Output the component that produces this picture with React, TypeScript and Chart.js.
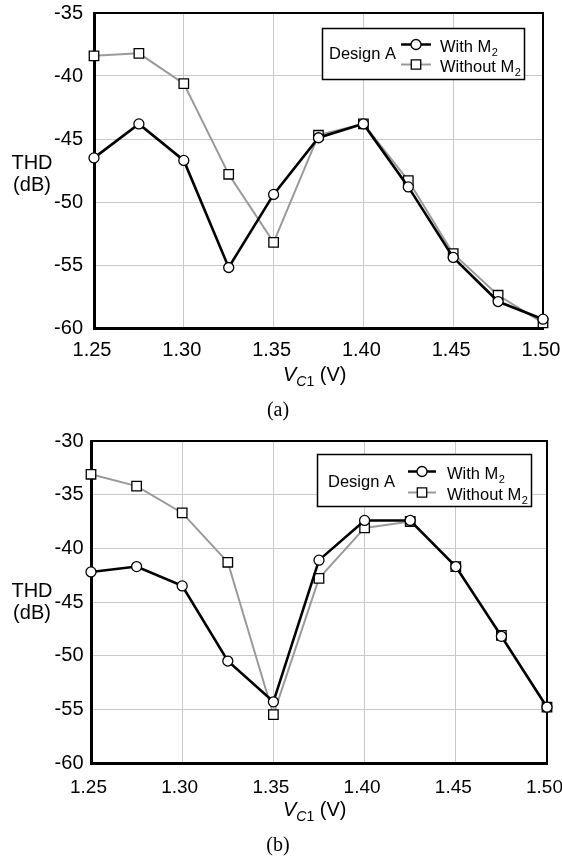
import React, { useEffect, useRef } from 'react';
import { Chart, registerables } from 'chart.js';

Chart.register(...registerables);

// ---- data ----
const vc1 = [1.25, 1.275, 1.3, 1.325, 1.35, 1.375, 1.4, 1.425, 1.45, 1.475, 1.5];
const withM2A = [-46.5, -43.8, -46.7, -55.2, -49.4, -44.9, -43.8, -48.8, -54.4, -57.9, -59.3];
const withoutM2A = [-38.4, -38.2, -40.6, -47.8, -53.2, -44.7, -43.8, -48.3, -54.1, -57.4, -59.6];
const withM2B = [-42.2, -41.7, -43.5, -50.5, -54.3, -41.1, -37.4, -37.4, -41.7, -48.2, -54.8];
const withoutM2B = [-33.1, -34.2, -36.7, -41.3, -55.5, -42.8, -38.1, -37.5, -41.7, -48.1, -54.8];
const xTicks = [1.25, 1.3, 1.35, 1.4, 1.45, 1.5];
const yTicksA = [-60, -55, -50, -45, -40, -35];
const yTicksB = [-60, -55, -50, -45, -40, -35, -30];
const legendTitle = 'Design A';
const seriesLabels = ['With M', 'Without M'];
const seriesSub = '2';

const SANS = '"Liberation Sans", Arial, Helvetica, sans-serif';
const SERIF = '"Liberation Serif", "Times New Roman", serif';
const LEGEND_FONT = 16.5;

type Geo = {
  height: number;
  padTop: number;
  padRight: number;
  yWidth: number;
  xHeight: number;
  yPad: number;
  xPad: number;
  xFont: number;
  xShift: number;
  box: { x: number; y: number; w: number; h: number };
  titleX: number;
  titleY: number;
  lineX1: number;
  lineX2: number;
  row1: number;
  row2: number;
  textX: number;
};

function drawMarker(ctx: CanvasRenderingContext2D, kind: 'circle' | 'rect', x: number, y: number) {
  ctx.save();
  ctx.fillStyle = '#ffffff';
  ctx.strokeStyle = '#000000';
  ctx.lineWidth = 1.3;
  ctx.beginPath();
  if (kind === 'circle') {
    ctx.arc(x, y, 5, 0, Math.PI * 2);
  } else {
    ctx.rect(x - 4.7, y - 4.7, 9.4, 9.4);
  }
  ctx.fill();
  ctx.stroke();
  ctx.restore();
}

function makePlugin(g: Geo) {
  return {
    id: 'frameLegend',
    beforeDatasetsDraw(chart: any) {
      const { ctx, chartArea } = chart;
      ctx.save();
      ctx.strokeStyle = '#000';
      ctx.lineWidth = 2;
      ctx.beginPath();
      ctx.moveTo(chartArea.left, chartArea.top);
      ctx.lineTo(chartArea.right, chartArea.top);
      ctx.lineTo(chartArea.right, chartArea.bottom);
      ctx.stroke();
      ctx.restore();
    },
    afterDatasetsDraw(chart: any) {
      const ctx: CanvasRenderingContext2D = chart.ctx;
      const b = g.box;
      ctx.save();
      ctx.fillStyle = '#fff';
      ctx.fillRect(b.x, b.y, b.w, b.h);
      ctx.strokeStyle = '#000';
      ctx.lineWidth = 1.5;
      ctx.strokeRect(b.x, b.y, b.w, b.h);
      ctx.fillStyle = '#000';
      ctx.font = `${LEGEND_FONT}px ${SANS}`;
      ctx.textBaseline = 'middle';
      ctx.textAlign = 'left';
      ctx.fillText(legendTitle, g.titleX, g.titleY);
      const rows = [g.row1, g.row2];
      const colors = ['#000000', '#9a9a9a'];
      const widths = [2.5, 2];
      const kinds: ('circle' | 'rect')[] = ['circle', 'rect'];
      rows.forEach((ry, i) => {
        ctx.strokeStyle = colors[i];
        ctx.lineWidth = widths[i];
        ctx.beginPath();
        ctx.moveTo(g.lineX1, ry);
        ctx.lineTo(g.lineX2, ry);
        ctx.stroke();
        drawMarker(ctx, kinds[i], (g.lineX1 + g.lineX2) / 2, ry);
        ctx.fillStyle = '#000';
        ctx.font = `${LEGEND_FONT}px ${SANS}`;
        ctx.textBaseline = 'alphabetic';
        const base = ry + 7.5;
        ctx.fillText(seriesLabels[i], g.textX, base);
        const w = ctx.measureText(seriesLabels[i]).width;
        ctx.font = `11px ${SANS}`;
        ctx.fillText(seriesSub, g.textX + w + 0.5, base + 4);
      });
      ctx.restore();
    },
  };
}

function makeConfig(withData: number[], withoutData: number[], yTicks: number[], g: Geo): any {
  return {
    type: 'line',
    data: {
      datasets: [
        {
          label: 'With M2',
          data: vc1.map((x, i) => ({ x, y: withData[i] })),
          borderColor: '#000000',
          borderWidth: 2.6,
          pointStyle: 'circle',
          pointRadius: 5,
          pointBackgroundColor: '#ffffff',
          pointBorderColor: '#000000',
          pointBorderWidth: 1.3,
          tension: 0,
          clip: false,
        },
        {
          label: 'Without M2',
          data: vc1.map((x, i) => ({ x, y: withoutData[i] })),
          borderColor: '#9a9a9a',
          borderWidth: 2,
          pointStyle: 'rect',
          pointRadius: 6.7,
          pointBackgroundColor: '#ffffff',
          pointBorderColor: '#000000',
          pointBorderWidth: 1.3,
          tension: 0,
          clip: false,
        },
      ],
    },
    options: {
      responsive: false,
      animation: false,
      events: [],
      layout: { padding: { left: 0, top: g.padTop, right: g.padRight, bottom: 0 } },
      plugins: { legend: { display: false }, tooltip: { enabled: false }, title: { display: false } },
      scales: {
        x: {
          type: 'linear',
          min: xTicks[0],
          max: xTicks[xTicks.length - 1],
          afterBuildTicks: (s: any) => {
            s.ticks = xTicks.map((v) => ({ value: v }));
          },
          afterFit: (s: any) => {
            s.height = g.xHeight;
            s.paddingLeft = 0;
            s.paddingRight = 0;
          },
          grid: { color: '#c8c8c8', lineWidth: 1, drawTicks: false },
          border: { display: true, color: '#000', width: 3 },
          ticks: {
            padding: g.xPad,
            labelOffset: g.xShift,
            color: '#000',
            font: { family: SANS, size: g.xFont },
            maxRotation: 0,
            autoSkip: false,
            callback: (v: number) => Number(v).toFixed(2),
          },
        },
        y: {
          type: 'linear',
          min: yTicks[0],
          max: yTicks[yTicks.length - 1],
          afterBuildTicks: (s: any) => {
            s.ticks = yTicks.map((v) => ({ value: v }));
          },
          afterFit: (s: any) => {
            s.width = g.yWidth;
            s.paddingTop = 0;
            s.paddingBottom = 0;
          },
          grid: { color: '#c8c8c8', lineWidth: 1, drawTicks: false },
          border: { display: true, color: '#000', width: 3 },
          ticks: {
            padding: g.yPad,
            color: '#000',
            font: { family: SANS, size: 20 },
            autoSkip: false,
            callback: (v: number) => String(v),
          },
        },
      },
    },
    plugins: [makePlugin(g)],
  };
}

const geoA: Geo = {
  height: 370,
  padTop: 13,
  padRight: 19,
  yWidth: 94,
  xHeight: 42,
  yPad: 11,
  xPad: 10,
  xFont: 20,
  xShift: -2,
  box: { x: 322.5, y: 28.5, w: 202, h: 51 },
  titleX: 329,
  titleY: 54,
  lineX1: 401,
  lineX2: 431,
  row1: 44.5,
  row2: 64.5,
  textX: 440,
};

const geoB: Geo = {
  height: 385,
  padTop: 21,
  padRight: 15,
  yWidth: 91,
  xHeight: 42,
  yPad: 7.5,
  xPad: 13,
  xFont: 19,
  xShift: -2.5,
  box: { x: 317.5, y: 34.5, w: 214, h: 52 },
  titleX: 328,
  titleY: 62,
  lineX1: 408,
  lineX2: 436,
  row1: 51.5,
  row2: 72.5,
  textX: 447,
};

function ChartCanvas({ top, geo, withData, withoutData, yTicks }: any) {
  const ref = useRef<HTMLCanvasElement | null>(null);
  useEffect(() => {
    if (!ref.current) return;
    const chart = new Chart(ref.current, makeConfig(withData, withoutData, yTicks, geo));
    return () => chart.destroy();
  }, []);
  return (
    <canvas
      ref={ref}
      width={562}
      height={geo.height}
      style={{ position: 'absolute', left: 0, top, width: 562, height: geo.height }}
    />
  );
}

const textBase: React.CSSProperties = {
  position: 'absolute',
  fontFamily: SANS,
  fontSize: 20,
  lineHeight: '22px',
  color: '#000',
  whiteSpace: 'nowrap',
};

function YTitle({ top }: { top: number }) {
  return (
    <div style={{ ...textBase, left: 0, top, width: 64, textAlign: 'center' }}>
      THD
      <br />
      (dB)
    </div>
  );
}

function XTitle({ top }: { top: number }) {
  return (
    <div style={{ ...textBase, left: 283, top }}>
      <i>V</i>
      <sub style={{ fontSize: 14, lineHeight: 0, verticalAlign: -5 }}>
        <i>C</i>1
      </sub>{' '}
      (V)
    </div>
  );
}

function Caption({ top, text }: { top: number; text: string }) {
  return (
    <div style={{ ...textBase, fontFamily: SERIF, left: 248, width: 60, textAlign: 'center', top }}>{text}</div>
  );
}

export default function App() {
  return (
    <div style={{ position: 'absolute', left: 0, top: 0, width: 562, height: 859, background: '#fff', overflow: 'hidden' }}>
      <ChartCanvas top={0} geo={geoA} withData={withM2A} withoutData={withoutM2A} yTicks={yTicksA} />
      <ChartCanvas top={420} geo={geoB} withData={withM2B} withoutData={withoutM2B} yTicks={yTicksB} />
      <YTitle top={150.5} />
      <YTitle top={579} />
      <XTitle top={362.5} />
      <XTitle top={797.5} />
      <Caption top={397.5} text="(a)" />
      <Caption top={832.5} text="(b)" />
    </div>
  );
}
